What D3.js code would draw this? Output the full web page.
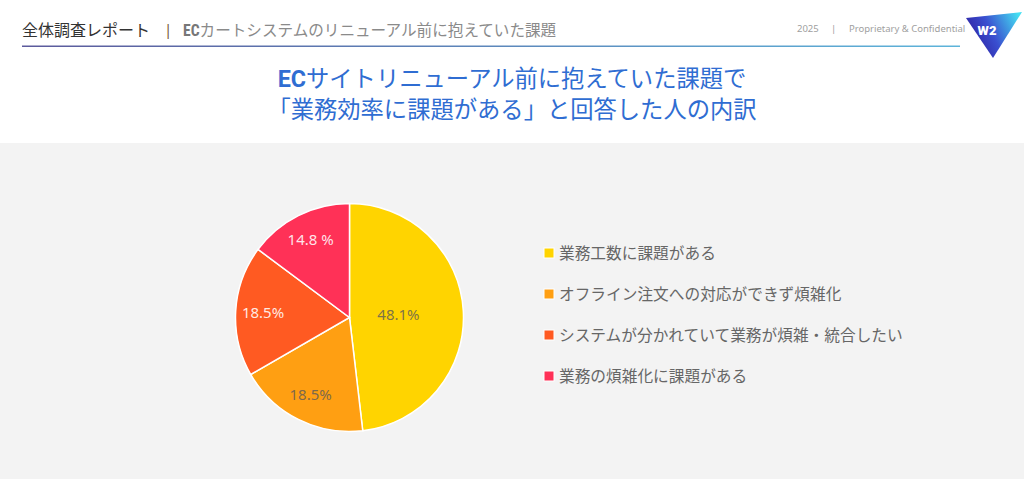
<!DOCTYPE html>
<html>
<head>
<meta charset="utf-8">
<script src="https://cdn.jsdelivr.net/npm/d3@7"></script>
<style>
  body { margin: 0; background: #fff; }
  svg { display: block; font-family: "Noto Sans CJK JP", "Noto Sans", sans-serif; }
</style>
</head>
<body>
<div id="chart"></div>
<script>
// data
var categories = [
  "業務工数に課題がある",
  "オフライン注文への対応ができず煩雑化",
  "システムが分かれていて業務が煩雑・統合したい",
  "業務の煩雑化に課題がある"
];
var values = [48.1, 18.5, 18.5, 14.8];
var valueLabels = ["48.1%", "18.5%", "18.5%", "14.8 %"];
var colors = ["#ffd400", "#ff9f12", "#ff5a22", "#ff3157"];

var svgWidth = 1024;
var svgHeight = 479;

var svg = d3.select("#chart")
  .append("svg")
  .attr("width", svgWidth)
  .attr("height", svgHeight);

var defs = svg.append("defs");

var lineGrad = defs.append("linearGradient").attr("id", "lineGrad");
lineGrad.append("stop").attr("offset", "0%").attr("stop-color", "#5c5a9c");
lineGrad.append("stop").attr("offset", "100%").attr("stop-color", "#5db4da");

var logoGrad = defs.append("linearGradient").attr("id", "logoGrad")
  .attr("x1", "0%").attr("y1", "60%").attr("x2", "100%").attr("y2", "20%");
logoGrad.append("stop").attr("offset", "0%").attr("stop-color", "#2d1c9c");
logoGrad.append("stop").attr("offset", "45%").attr("stop-color", "#3a4fd0");
logoGrad.append("stop").attr("offset", "100%").attr("stop-color", "#44e0f2");

// grey panel
svg.append("rect")
  .attr("x", 0).attr("y", 143)
  .attr("width", svgWidth).attr("height", svgHeight - 143)
  .attr("fill", "#f3f3f3");

// header
svg.append("text")
  .attr("x", 22).attr("y", 36)
  .attr("font-size", 16)
  .attr("fill", "#333")
  .text("全体調査レポート");

svg.append("text")
  .attr("x", 164).attr("y", 35)
  .attr("font-size", 15)
  .attr("fill", "#7a5a3a")
  .attr("font-family", "Noto Sans, sans-serif")
  .text("|");

var sub = svg.append("text")
  .attr("x", 183).attr("y", 36)
  .attr("font-size", 15.6)
  .attr("fill", "#8a8a8a");
sub.append("tspan").attr("font-family", "Roboto Condensed, Roboto, sans-serif")
  .attr("font-weight", "bold").attr("fill", "#777").text("EC");
sub.append("tspan").text("カートシステムのリニューアル前に抱えていた課題");

svg.append("rect")
  .attr("x", 22).attr("y", 45.5)
  .attr("width", 938).attr("height", 1.5)
  .attr("fill", "url(#lineGrad)");

var meta = svg.append("g")
  .attr("font-family", "Noto Sans, sans-serif")
  .attr("font-size", 9.5)
  .attr("fill", "#a0a0a0");
meta.append("text").attr("x", 797).attr("y", 32).text("2025");
meta.append("text").attr("x", 831).attr("y", 32).text("|");
meta.append("text").attr("x", 849).attr("y", 32).text("Proprietary & Confidential");

// logo
svg.append("path")
  .attr("d", "M966,18 L1022,12 L993,58 Z")
  .attr("fill", "url(#logoGrad)");
svg.append("text")
  .attr("x", 987).attr("y", 35)
  .attr("text-anchor", "middle")
  .attr("font-family", "Roboto, sans-serif")
  .attr("font-weight", "900")
  .attr("font-size", 13)
  .attr("fill", "#fff")
  .text("W2");

// title
var title = svg.append("g")
  .attr("fill", "#2f6dd2")
  .attr("font-size", 23.3)
  .attr("text-anchor", "middle");
var t1 = title.append("text").attr("x", 512).attr("y", 87);
t1.append("tspan").attr("font-family", "Roboto, sans-serif").attr("font-weight", "bold").text("EC");
t1.append("tspan").text("サイトリニューアル前に抱えていた課題で");
title.append("text").attr("x", 512).attr("y", 118)
  .text("「業務効率に課題がある」と回答した人の内訳");

// pie
var cx = 349.5, cy = 317.5, radius = 114;

var pie = d3.pie().sort(null).value(d => d);
var arcs = pie(values);

var arc = d3.arc().innerRadius(0).outerRadius(radius);
var labelArcBig = d3.arc().innerRadius(radius * 0.43).outerRadius(radius * 0.43);
var labelArc = d3.arc().innerRadius(radius * 0.76).outerRadius(radius * 0.76);

var pieGroup = svg.append("g")
  .attr("transform", `translate(${cx}, ${cy})`);

pieGroup.selectAll("path")
  .data(arcs)
  .enter()
  .append("path")
  .attr("d", arc)
  .attr("fill", (d, i) => colors[i])
  .attr("stroke", "#fff")
  .attr("stroke-width", 1.5);

pieGroup.selectAll("text")
  .data(arcs)
  .enter()
  .append("text")
  .attr("transform", d => {
    var c = (d.endAngle - d.startAngle > Math.PI * 0.8 ? labelArcBig : labelArc).centroid(d);
    return `translate(${c[0]}, ${c[1]})`;
  })
  .attr("text-anchor", "middle")
  .attr("dy", "0.35em")
  .attr("font-family", "Noto Sans, sans-serif")
  .attr("font-size", 15)
  .attr("fill", (d, i) => i < 2 ? "#5a5a5a" : "#fff")
  .attr("fill-opacity", (d, i) => i < 2 ? 0.8 : 0.88)
  .text((d, i) => valueLabels[i]);

// legend
var legendY = d3.scalePoint()
  .domain(categories)
  .range([253, 376]);

var legend = svg.append("g")
  .selectAll("g")
  .data(categories)
  .enter()
  .append("g")
  .attr("transform", d => `translate(544, ${legendY(d)})`);

legend.append("rect")
  .attr("x", 0).attr("y", -5)
  .attr("width", 10).attr("height", 10)
  .attr("fill", (d, i) => colors[i])
  .attr("stroke", "#fff")
  .attr("stroke-width", 1);

legend.append("text")
  .attr("x", 15)
  .attr("dy", "0.36em")
  .attr("font-size", 15.7)
  .attr("fill", "#666")
  .text(d => d);
</script>
</body>
</html>
